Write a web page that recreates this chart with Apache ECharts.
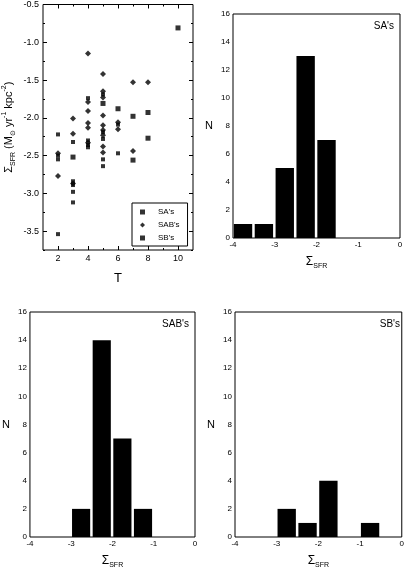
<!DOCTYPE html>
<html><head><meta charset="utf-8">
<script src="https://cdn.jsdelivr.net/npm/echarts@6/dist/echarts.min.js"></script>
<style>html,body{margin:0;padding:0;background:#fff}#c{width:407px;height:570px}</style>
</head><body><div id="c"></div>
<script>
// ---- data ----
const saPoints = [[2,-2.22],[2,-2.50],[2,-2.55],[2,-3.54],[3,-2.32],[3,-2.84],[3,-2.89],[3,-2.98],[3,-3.12],
  [4,-1.74],[4,-2.30],[4,-2.36],[4,-2.39],[5,-1.69],[5,-2.19],[5,-2.28],[5,-2.55],[5,-2.64],[6,-2.09],[6,-2.47]];
const sabPoints = [[2,-2.47],[2,-2.77],[3,-2.01],[3,-2.21],[3,-2.87],[4,-1.15],[4,-1.79],[4,-1.91],[4,-2.07],[4,-2.13],[4,-2.33],
  [5,-1.42],[5,-1.65],[5,-1.73],[5,-1.97],[5,-2.10],[5,-2.16],[5,-2.23],[5,-2.38],[5,-2.46],[6,-2.06],[6,-2.15],[7,-1.53],[7,-2.44],[8,-1.53]];
const sbPoints = [[3,-2.52],[5,-1.81],[6,-1.88],[7,-1.98],[7,-2.56],[8,-1.93],[8,-2.27],[10,-0.81]];
const binStarts = [-4,-3.5,-3,-2.5,-2,-1.5,-1,-0.5];
const binWidth = 0.5;
const saCounts  = [1,1,5,13,7,0,0,0];
const sabCounts = [0,0,2,14,7,2,0,0];
const sbCounts  = [0,0,2,1,4,0,1,0];
const xMajorTicks = [2,4,6,8,10];
const xMinorTicks = [3,5,7,9];
const yMajorTicks = [-3.5,-3.0,-2.5,-2.0,-1.5,-1.0,-0.5];
const yMinorTicks = [-3.75,-3.25,-2.75,-2.25,-1.75,-1.25,-0.75];

const FF = 'Liberation Sans, Arial, sans-serif';
const chart = echarts.init(document.getElementById('c'), null, {renderer:'canvas'});

function scatAxis(kind, pos, ticks, len, labels, extra){
  const isX = kind==='x';
  return Object.assign({
    type:'value', gridIndex:0, position:pos,
    min: isX?1:-3.75, max: isX?11:-0.5,
    axisLine:{show:false}, splitLine:{show:false},
    axisTick:{show:true, inside:true, length:len, customValues:ticks, lineStyle:{color:'#000',width:1}},
    axisLabel:{show:labels, customValues:ticks, color:'#000', fontSize:9, fontFamily:FF, margin:4,
      formatter: v => isX ? String(v) : v.toFixed(1)}
  }, extra||{});
}
function histX(g, extra){
  return Object.assign({type:'value', gridIndex:g, min:-4, max:0, interval:1,
    axisLine:{show:false}, splitLine:{show:false}, axisTick:{show:false},
    axisLabel:{color:'#000', fontSize:8, fontFamily:FF, margin:3},
    name:'{b|Σ}{s|SFR}', nameLocation:'middle', nameGap:16,
    nameTextStyle:{rich:{b:{fontSize:12,lineHeight:16,fontFamily:FF,color:'#000'},
      s:{fontSize:7,lineHeight:7,verticalAlign:'bottom',fontFamily:FF,color:'#000'}}}}, extra||{});
}
function histY(g, extra){
  return Object.assign({type:'value', gridIndex:g, min:0, max:16, interval:2,
    axisLine:{show:false}, splitLine:{show:false}, axisTick:{show:false},
    axisLabel:{color:'#000', fontSize:8, fontFamily:FF, margin:3},
    name:'N', nameLocation:'middle', nameRotate:0, nameGap:20,
    nameTextStyle:{fontSize:11, fontFamily:FF, color:'#000'}}, extra||{});
}
function bars(counts, g){
  return {
    type:'custom', xAxisIndex:4+g, yAxisIndex:4+g,
    data: binStarts.map((s,i)=>[s, s+binWidth, counts[i]]).filter(d=>d[2]>0),
    renderItem:(params, api)=>{
      const p0 = api.coord([api.value(0)+0.02, api.value(2)]);
      const p1 = api.coord([api.value(1)-0.04, 0]);
      return {type:'rect', shape:{x:p0[0], y:p0[1], width:p1[0]-p0[0], height:p1[1]-p0[1]}, style:{fill:'#000'}};
    }
  };
}

const yName = '{b|Σ}{s|SFR}{b| (M}{s|⊙}{b| yr}{p|-1}{b| kpc}{p|-2}{b|)}';

chart.setOption({
  backgroundColor:'#fff',
  animation:false,
  title:[
    {text:"SA's", right:13, top:21, padding:0, textStyle:{fontSize:10,fontWeight:'normal',fontFamily:FF,color:'#000'}},
    {text:"SAB's", right:218, top:319, padding:0, textStyle:{fontSize:10,fontWeight:'normal',fontFamily:FF,color:'#000'}},
    {text:"SB's", right:7, top:319, padding:0, textStyle:{fontSize:10,fontWeight:'normal',fontFamily:FF,color:'#000'}}
  ],
  legend:{
    left:132, top:203, orient:'vertical', borderColor:'#000', borderWidth:1, borderRadius:0,
    padding:[5,8,4,8], itemGap:5, itemWidth:5, itemHeight:5,
    textStyle:{fontSize:8, fontFamily:FF, color:'#000', padding:[0,0,0,8]},
    data:[{name:"SA's", icon:'rect'},{name:"SAB's", icon:'diamond'},{name:"SB's", icon:'rect'}]
  },
  grid:[
    {left:42, top:2, width:151, height:248, show:true, borderColor:'#000', borderWidth:1, backgroundColor:'transparent'},
    {left:233, top:14, width:167, height:224, show:true, borderColor:'#000', borderWidth:1, backgroundColor:'transparent'},
    {left:28, top:312, width:167, height:225, show:true, borderColor:'#000', borderWidth:1, backgroundColor:'transparent'},
    {left:235, top:312, width:170, height:225, show:true, borderColor:'#000', borderWidth:1, backgroundColor:'transparent'}
  ],
  xAxis:[
    scatAxis('x','bottom',xMajorTicks,4,true,{name:'T', nameLocation:'middle', nameGap:22,
      nameTextStyle:{fontSize:13,fontFamily:FF,color:'#000'}}),
    scatAxis('x','bottom',xMinorTicks,2,false),
    scatAxis('x','top',xMajorTicks,4,false),
    scatAxis('x','top',xMinorTicks,2,false),
    histX(1), histX(2), histX(3)
  ],
  yAxis:[
    scatAxis('y','left',yMajorTicks,4,true,{name:yName, nameLocation:'middle', nameGap:26,
      nameTextStyle:{rich:{
        b:{fontSize:11,lineHeight:16,fontFamily:FF,color:'#000'},
        s:{fontSize:7,lineHeight:7,verticalAlign:'bottom',fontFamily:FF,color:'#000'},
        p:{fontSize:7,lineHeight:7,verticalAlign:'top',fontFamily:FF,color:'#000'}}}}),
    scatAxis('y','left',yMinorTicks,2,false),
    scatAxis('y','right',yMajorTicks,4,false),
    scatAxis('y','right',yMinorTicks,2,false),
    histY(1), histY(2), histY(3)
  ],
  series:[
    {name:"SA's", type:'scatter', xAxisIndex:0, yAxisIndex:0, symbol:'rect', symbolSize:4, itemStyle:{color:'#000'}, data:saPoints},
    {name:"SAB's", type:'scatter', xAxisIndex:0, yAxisIndex:0, symbol:'diamond', symbolSize:6, itemStyle:{color:'#000'}, data:sabPoints},
    {name:"SB's", type:'scatter', xAxisIndex:0, yAxisIndex:0, symbol:'rect', symbolSize:5, itemStyle:{color:'#000'}, data:sbPoints},
    bars(saCounts,0), bars(sabCounts,1), bars(sbCounts,2)
  ]
});
</script></body></html>
